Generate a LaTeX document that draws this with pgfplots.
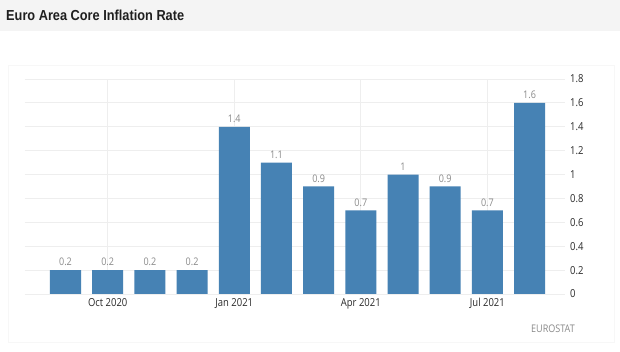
\documentclass[border=0pt]{standalone}
\usepackage{pgfplots}
\pgfplotsset{compat=1.18}
\usepackage{fontspec}
\setmainfont{Open Sans}[FakeStretch=0.86]
\newfontfamily\titlefont{Liberation Sans}[FakeStretch=0.88]
\definecolor{barblue}{HTML}{4682B4}
\definecolor{titlebg}{HTML}{F4F4F4}
\definecolor{gridc}{HTML}{EEEEEE}
\definecolor{lblgray}{HTML}{8A8A8A}
\definecolor{tickc}{HTML}{2A2A2A}
\begin{document}
\begin{tikzpicture}[x=1pt,y=1pt]
\useasboundingbox (0,0) rectangle (620,352);
\fill[white] (0,0) rectangle (620,352);
\fill[titlebg] (0,321) rectangle (620,352);
\node[anchor=west, inner sep=0pt, text=black!88, font=\titlefont\bfseries\fontsize{14.5}{16}\selectfont] at (6,337) {Euro Area Core Inflation Rate};
\draw[black!3] (8,10) rectangle (614,287);
\node[anchor=east, inner sep=0pt, text=lblgray, font=\fontsize{10.5}{12}\selectfont] at (575,23) {EUROSTAT};
\begin{axis}[
  at={(25pt,58pt)}, anchor=south west,
  scale only axis, width=540pt, height=215pt,
  xmin=-0.96, xmax=11.84, ymin=0, ymax=1.8,
  axis line style={draw=none},
  major tick length=0pt,
  ytick={0,0.2,0.4,0.6,0.8,1,1.2,1.4,1.6,1.8},
  yticklabel pos=right,
  yticklabel style={anchor=west, inner sep=0pt, xshift=5pt, text=tickc, font=\fontsize{11}{12}\selectfont, /pgf/number format/fixed, /pgf/number format/assume math mode=true},
  xtick={1,4,7,10},
  xticklabels={Oct 2020, Jan 2021, Apr 2021, Jul 2021},
  xticklabel style={text=tickc, font=\fontsize{11}{12}\selectfont, yshift=-0.5pt},
  xmajorgrids, ymajorgrids,
  grid style={gridc, line width=0.8pt},
  ybar, bar width=31pt,
  nodes near coords,
  nodes near coords style={text=lblgray, font=\fontsize{10.5}{11}\selectfont, /pgf/number format/fixed, /pgf/number format/assume math mode=true, yshift=0.5pt},
  clip=false,
]
\addplot[fill=barblue, draw=none] coordinates {
  (0,0.2) (1,0.2) (2,0.2) (3,0.2) (4,1.4) (5,1.1)
  (6,0.9) (7,0.7) (8,1.0) (9,0.9) (10,0.7) (11,1.6)
};
\end{axis}
\end{tikzpicture}
\end{document}
